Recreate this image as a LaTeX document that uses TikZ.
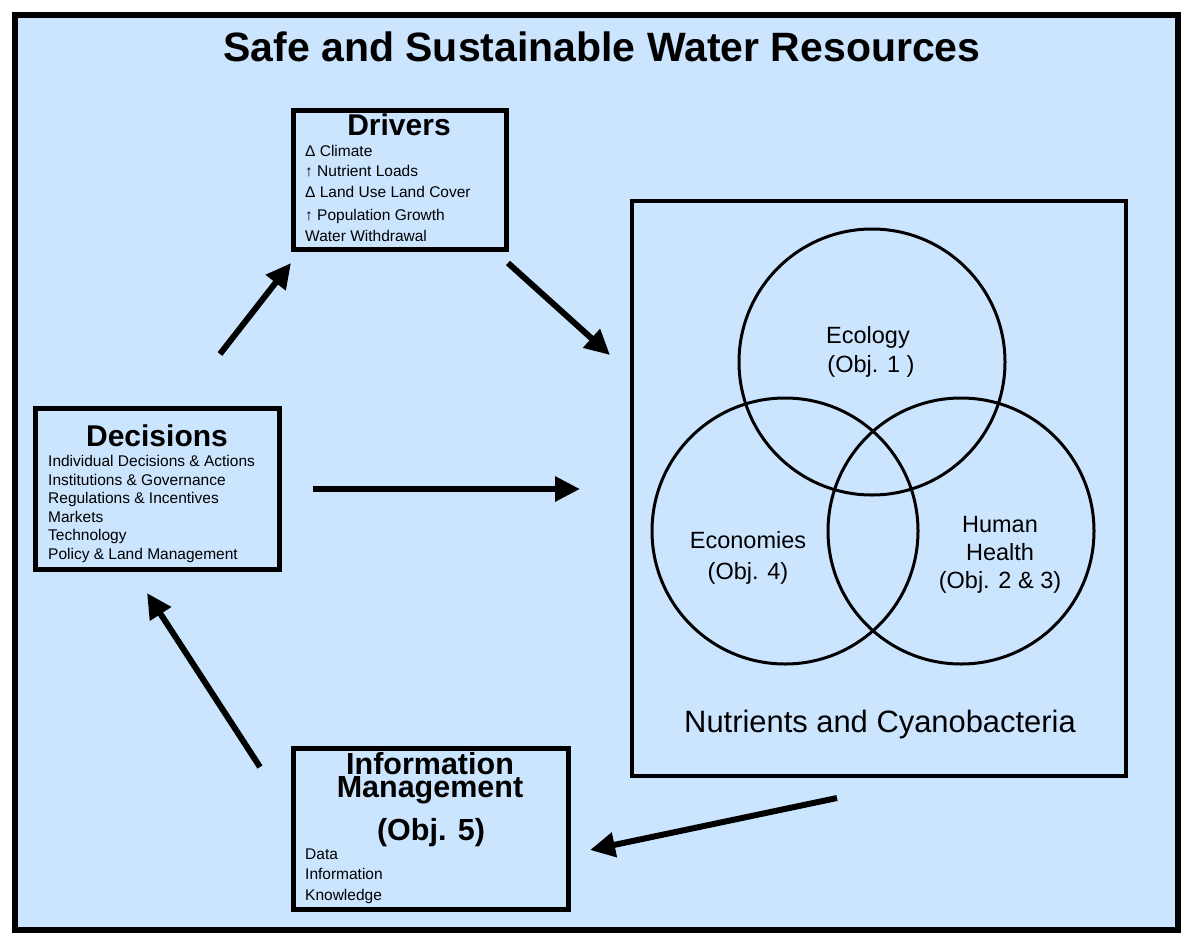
\documentclass[tikz,border=0pt]{standalone}
\usepackage{fontspec}
\setmainfont{Liberation Sans}
\usetikzlibrary{arrows.meta}
\definecolor{bgblue}{RGB}{204,229,255}
\tikzset{
  frame/.style={draw=black, fill=bgblue, line width=6pt},
  boxstyle/.style={draw=black, line width=5pt},
  bigbox/.style={draw=black, line width=3.5pt},
  venn/.style={draw=black, line width=3pt},
  flow/.style={line width=6pt, -{Triangle[length=25pt,width=24pt]}},
  item/.style={inner sep=0pt, anchor=base west, font=\fontsize{15.5}{15.5}\selectfont},
  boxtitle/.style={inner sep=0pt, anchor=base, font=\bfseries\fontsize{30}{30}\selectfont},
  vlabel/.style={inner sep=0pt, anchor=base, font=\fontsize{23.5}{23.5}\selectfont},
}
\begin{document}
\begin{tikzpicture}[x=1pt,y=-1pt]
\useasboundingbox (0,0) rectangle (1189,940);
\fill[white] (0,0) rectangle (1189,940);
\draw[frame] (15,15) rectangle (1178,930);

% title
\node[inner sep=0pt, anchor=base, font=\bfseries\fontsize{41}{41}\selectfont] (title) at (602,61) {Safe and Sustainable Water Resources};

% Drivers
\node[boxstyle, minimum width=213pt, minimum height=139pt, inner sep=0pt] (drivers) at (399.5,179.5) {};
\node[boxtitle] (drvt) at (399,135) {Drivers};
\node[item] (dr1) at (305,156) {Δ Climate};
\node[item] (dr2) at (305,176) {↑ Nutrient Loads};
\node[item] (dr3) at (305,197) {Δ Land Use Land Cover};
\node[item] (dr4) at (305,220) {↑ Population Growth};
\node[item] (dr5) at (305,241) {Water Withdrawal};

% Decisions
\node[boxstyle, minimum width=244pt, minimum height=161pt, inner sep=0pt] (decisions) at (157,488.5) {};
\node[boxtitle] (dect) at (157,446) {Decisions};
\node[item] (de1) at (48,466) {Individual Decisions \& Actions};
\node[item] (de2) at (48,485) {Institutions \& Governance};
\node[item] (de3) at (48,503) {Regulations \& Incentives};
\node[item] (de4) at (48,522) {Markets};
\node[item] (de5) at (48,540) {Technology};
\node[item] (de6) at (48,559) {Policy \& Land Management};

% Information Management
\node[boxstyle, minimum width=275pt, minimum height=161pt, inner sep=0pt] (info) at (430.5,828.5) {};
\node[boxtitle, font=\bfseries\fontsize{30.5}{30.5}\selectfont] (inft1) at (430,774) {Information};
\node[boxtitle, font=\bfseries\fontsize{30.5}{30.5}\selectfont] (inft2) at (430,797) {Management};
\node[boxtitle, font=\bfseries\fontsize{30.5}{30.5}\selectfont] (inft3) at (431,840) {(Obj. 5)};
\node[item] (in1) at (305,859) {Data};
\node[item] (in2) at (305,879) {Information};
\node[item] (in3) at (305,900) {Knowledge};

% Right box with Venn diagram
\node[bigbox, minimum width=494pt, minimum height=575pt, inner sep=0pt] (nutr) at (879,488.5) {};
\node[venn, circle, minimum size=266pt, inner sep=0pt] (eco) at (872,362) {};
\node[venn, circle, minimum size=266pt, inner sep=0pt] (econ) at (785,531) {};
\node[venn, circle, minimum size=266pt, inner sep=0pt] (health) at (961,531) {};
\node[vlabel] (ecol1) at (868,343.5) {Ecology};
\node[vlabel] (ecol2) at (871,372.5) {(Obj. 1 )};
\node[vlabel] (econl1) at (748,548.5) {Economies};
\node[vlabel] (econl2) at (748,579.5) {(Obj. 4)};
\node[vlabel] (hl1) at (1000,532.5) {Human};
\node[vlabel] (hl2) at (1000,560.5) {Health};
\node[vlabel] (hl3) at (1000,588.5) {(Obj. 2 \& 3)};
\node[inner sep=0pt, anchor=base, font=\fontsize{30.9}{30.9}\selectfont] (nutl) at (880,732) {Nutrients and Cyanobacteria};

% arrow end points
\coordinate (a1s) at (220,354);
\coordinate (a1e) at (291,263);
\coordinate (a2s) at (508,263);
\coordinate (a2e) at (610,355);
\coordinate (a3s) at (313,489);
\coordinate (a3e) at (580,489);
\coordinate (a4s) at (837,798);
\coordinate (a4e) at (590,850);
\coordinate (a5s) at (260,767);
\coordinate (a5e) at (147,593);

\draw[flow] (a1s) -- (a1e);
\draw[flow] (a2s) -- (a2e);
\draw[flow] (a3s) -- (a3e);
\draw[flow] (a4s) -- (a4e);
\draw[flow] (a5s) -- (a5e);
\end{tikzpicture}
\end{document}
